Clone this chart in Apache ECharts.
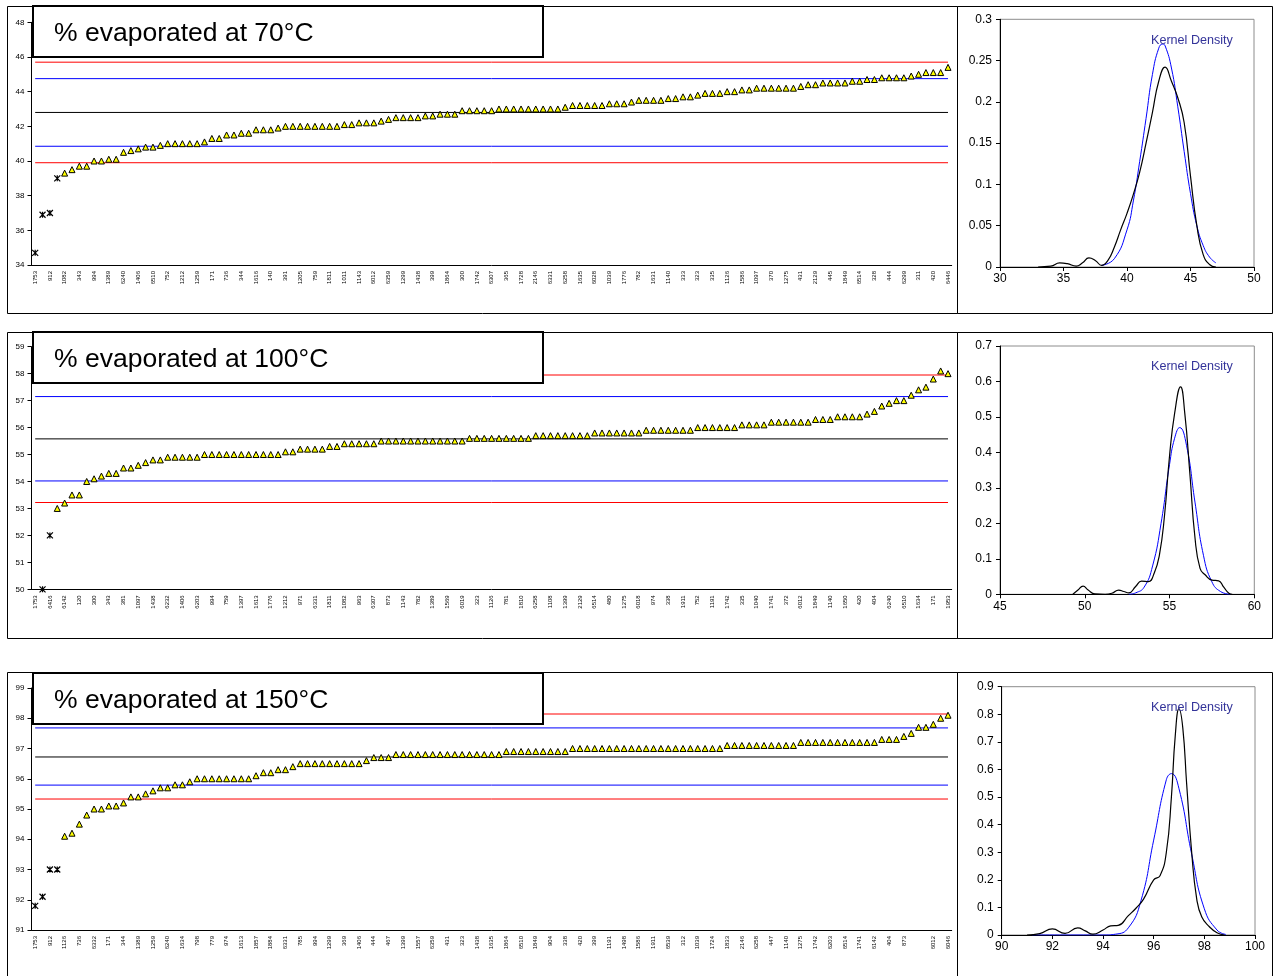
<!DOCTYPE html>
<html>
<head>
<meta charset="utf-8">
<script src="https://cdn.jsdelivr.net/npm/echarts@6/dist/echarts.min.js"></script>
<style>
  html, body { margin: 0; padding: 0; background: #fff; }
  #main { width: 1274px; height: 976px; }
</style>
</head>
<body>
<div id="main"></div>
<script>
//模拟真实数据 - 70°C
var labels70 = ["1753","912","1082","343","994","1389","6240","1406","6510","752","1212","1259","171","736","344","1616","140","391","1205","759","1811","1011","1143","6012","6359","1299","1438","399","1864","300","1742","6307","365","1728","2146","6331","6258","1635","6028","1039","1776","782","1631","1140","333","323","335","1126","1586","1097","370","1275","431","2129","445","1849","6514","328","444","6299","311","420","6446"];
var vals70 = [34.7,36.9,37.0,39.0,39.3,39.5,39.7,39.7,40.0,40.0,40.1,40.1,40.5,40.6,40.7,40.8,40.8,40.9,41.0,41.0,41.0,41.0,41.0,41.1,41.3,41.3,41.5,41.5,41.6,41.6,41.8,41.8,41.8,41.9,42.0,42.0,42.0,42.0,42.0,42.0,42.0,42.0,42.1,42.1,42.2,42.2,42.2,42.3,42.4,42.5,42.5,42.5,42.5,42.6,42.6,42.7,42.7,42.7,42.9,42.9,42.9,
  42.9,42.9,43.0,43.0,43.0,43.0,43.0,43.0,43.0,43.0,43.0,43.1,43.2,43.2,43.2,43.2,43.2,43.3,43.3,43.3,43.4,43.5,43.5,43.5,43.5,43.6,43.6,43.7,43.7,43.8,43.9,43.9,43.9,44.0,44.0,44.1,44.1,44.2,44.2,44.2,44.2,44.2,44.2,44.3,44.4,44.4,44.5,44.5,44.5,44.5,44.6,44.6,44.7,44.7,44.8,44.8,44.8,44.8,44.9,45.0,45.1,45.1,45.1,45.4];
var flagged70 = 4;
var lines70 = [45.7, 44.75, 42.8, 40.85, 39.9];

//100°C
var labels100 = ["1753","6416","6142","120","300","343","381","1097","1438","6232","1406","6203","994","759","1397","1613","1776","1212","971","6331","1811","1082","963","6307","873","1143","782","1389","1569","6019","323","1126","781","1810","6258","1108","1399","2129","6514","480","1275","6018","974","338","1911","752","1191","1742","335","1040","1741","372","6012","1849","1140","1650","420","404","6240","6510","1634","171","1953"];
var vals100 = [49.8,50.0,52.0,53.0,53.2,53.5,53.5,54.0,54.1,54.2,54.3,54.3,54.5,54.5,54.6,54.7,54.8,54.8,54.9,54.9,54.9,54.9,54.9,55.0,55.0,55.0,55.0,55.0,55.0,55.0,55.0,55.0,55.0,55.0,55.1,55.1,55.2,55.2,55.2,55.2,55.3,55.3,55.4,55.4,55.4,55.4,55.4,55.5,55.5,55.5,55.5,55.5,55.5,55.5,55.5,55.5,55.5,55.5,55.5,
  55.6,55.6,55.6,55.6,55.6,55.6,55.6,55.6,55.6,55.7,55.7,55.7,55.7,55.7,55.7,55.7,55.7,55.8,55.8,55.8,55.8,55.8,55.8,55.8,55.9,55.9,55.9,55.9,55.9,55.9,55.9,56.0,56.0,56.0,56.0,56.0,56.0,56.1,56.1,56.1,56.1,56.2,56.2,56.2,56.2,56.2,56.2,56.3,56.3,56.3,56.4,56.4,56.4,56.4,56.5,56.6,56.8,56.9,57.0,57.0,57.2,57.4,57.5,57.8,58.1,58.0];
var flagged100 = 3;
var lines100 = [57.95, 57.15, 55.58, 54.02, 53.22];

//150°C
var labels150 = ["1753","912","1126","736","6332","171","344","1389","1259","6240","1634","798","779","974","1613","1857","1884","6331","785","994","1299","369","1406","444","467","1399","1557","6359","431","323","1438","1635","1864","6510","1849","904","338","420","399","1191","1498","1586","1911","6539","312","1039","1724","1833","2146","6258","447","1140","1275","1742","6203","6514","1741","6142","404","873","","6012","6046"];
var vals150 = [91.8,92.1,93.0,93.0,94.1,94.2,94.5,94.8,95.0,95.0,95.1,95.1,95.2,95.4,95.4,95.5,95.6,95.7,95.7,95.8,95.8,95.9,96.0,96.0,96.0,96.0,96.0,96.0,96.0,96.0,96.1,96.2,96.2,96.3,96.3,96.4,96.5,96.5,96.5,96.5,96.5,96.5,96.5,96.5,96.5,96.6,96.7,96.7,96.7,
  96.8,96.8,96.8,96.8,96.8,96.8,96.8,96.8,96.8,96.8,96.8,96.8,96.8,96.8,96.8,96.9,96.9,96.9,96.9,96.9,96.9,96.9,96.9,96.9,97.0,97.0,97.0,97.0,97.0,97.0,97.0,97.0,97.0,97.0,97.0,97.0,97.0,97.0,97.0,97.0,97.0,97.0,97.0,97.0,97.0,
  97.1,97.1,97.1,97.1,97.1,97.1,97.1,97.1,97.1,97.1,97.2,97.2,97.2,97.2,97.2,97.2,97.2,97.2,97.2,97.2,97.2,97.3,97.3,97.3,97.4,97.5,97.7,97.7,97.8,98.0,98.1];
var flagged150 = 4;
var lines150 = [98.14, 97.68, 96.72, 95.79, 95.33];

//核密度曲线 (黑) 和 正态曲线 (蓝)
var kde70 = [[33,0],[34,0.001],[34.7,0.005],[35.3,0.004],[36,0.001],[36.5,0.005],[37,0.011],[37.5,0.008],[38,0.002],[38.5,0.008],[39,0.024],[39.5,0.045],[40,0.065],[40.5,0.088],[41,0.115],[41.5,0.15],[42,0.187],[42.5,0.225],[43,0.242],[43.5,0.225],[44,0.205],[44.5,0.175],[45,0.11],[45.5,0.05],[46,0.015],[46.5,0.003],[47,0]];
var norm70 = [[38,0.002],[39,0.01],[40,0.045],[40.5,0.08],[41,0.128],[41.5,0.18],[42,0.233],[42.5,0.265],[42.8,0.27],[43,0.268],[43.5,0.241],[44,0.194],[44.5,0.14],[45,0.089],[45.5,0.05],[46,0.026],[46.5,0.012],[47,0.005]];
var kde100 = [[49.3,0],[49.6,0.012],[49.9,0.023],[50.2,0.012],[50.6,0.001],[51.2,0],[51.6,0.003],[52,0.012],[52.3,0.008],[52.6,0.004],[53,0.022],[53.35,0.037],[53.75,0.036],[54.1,0.06],[54.4,0.11],[54.7,0.22],[55,0.39],[55.3,0.51],[55.65,0.585],[55.9,0.51],[56.2,0.34],[56.5,0.16],[56.8,0.073],[57.1,0.055],[57.5,0.04],[57.9,0.038],[58.2,0.02],[58.5,0.003],[58.7,0]];
var norm100 = [[52.6,0],[53,0.004],[53.5,0.02],[54,0.08],[54.5,0.2],[55,0.366],[55.3,0.44],[55.6,0.47],[56,0.42],[56.5,0.26],[57,0.11],[57.5,0.035],[58,0.008],[58.6,0]];
var kde150 = [[91,0],[91.5,0.005],[92,0.022],[92.5,0.006],[93,0.026],[93.3,0.015],[93.6,0.003],[94,0.018],[94.3,0.033],[94.6,0.035],[95,0.07],[95.3,0.097],[95.6,0.13],[96,0.2],[96.25,0.215],[96.5,0.3],[96.7,0.5],[96.85,0.72],[97,0.82],[97.15,0.75],[97.3,0.55],[97.5,0.3],[97.7,0.13],[97.9,0.065],[98.2,0.03],[98.5,0.008],[98.8,0]];
var norm150 = [[91.2,0],[94,0],[94.5,0.003],[95,0.026],[95.5,0.125],[96,0.344],[96.5,0.563],[96.7,0.585],[97,0.53],[97.5,0.293],[98,0.095],[98.5,0.018],[98.85,0.002]];

var myChart = echarts.init(document.getElementById("main"));
var font = "'Liberation Sans', Arial, sans-serif";
var lineColors = ['#ff0000', '#0000ff', '#000000', '#0000ff', '#ff0000'];
var crossPath = 'path://M0,0L8,8M8,0L0,8M4,0L4,8';

// 每隔一个点显示一个标签
function cats(labels, n) {
  var arr = [];
  for (var i = 0; i < n; i++) {
    arr.push(i % 2 === 0 ? labels[i / 2] : '');
  }
  return arr;
}

var panels = [
  {labels: labels70, vals: vals70, flagged: flagged70, lines: lines70, min: 34, max: 48, step: 2, top: 22.3, height: 242.7},
  {labels: labels100, vals: vals100, flagged: flagged100, lines: lines100, min: 50, max: 59, step: 1, top: 346.7, height: 242.6},
  {labels: labels150, vals: vals150, flagged: flagged150, lines: lines150, min: 91, max: 99, step: 1, top: 688, height: 242}
];
var dens = [
  {kde: kde70, norm: norm70, xmin: 30, xmax: 50, xstep: 5, ymax: 0.3, ystep: 0.05, left: 1000, top: 19.3, width: 254, height: 247.7},
  {kde: kde100, norm: norm100, xmin: 45, xmax: 60, xstep: 5, ymax: 0.7, ystep: 0.1, left: 1000, top: 346, width: 254.3, height: 248.3},
  {kde: kde150, norm: norm150, xmin: 90, xmax: 100, xstep: 2, ymax: 0.9, ystep: 0.1, left: 1001.7, top: 686.7, width: 253.3, height: 248.3}
];
var titles = ['% evaporated at 70°C', '% evaporated at 100°C', '% evaporated at 150°C'];
var boxTops = [6, 332, 673];
var frameTops = [6, 332, 672];
var frameH = [307, 306, 320];

var grid = [], xAxis = [], yAxis = [], series = [], graphic = [];

panels.forEach(function (p, k) {
  var n = p.vals.length;
  grid.push({left: 31.5, top: p.top, width: 920.2, height: p.height});
  xAxis.push({
    type: 'category', gridIndex: k, data: cats(p.labels, n), boundaryGap: true,
    axisLine: {lineStyle: {color: '#000', width: 1}},
    axisTick: {show: false},
    axisLabel: {interval: 0, rotate: 90, fontSize: 6, color: '#000', margin: 6, fontFamily: font}
  });
  yAxis.push({
    type: 'value', gridIndex: k, min: p.min, max: p.max, interval: p.step,
    axisLine: {show: true, lineStyle: {color: '#000', width: 1}},
    axisTick: {show: true, length: 4, lineStyle: {color: '#000'}},
    splitLine: {show: false},
    axisLabel: {fontSize: 8, color: '#000', margin: 7, fontFamily: font}
  });
  // 参考线 (均值, ±2σ, ±3σ)
  p.lines.forEach(function (v, j) {
    series.push({
      type: 'line', xAxisIndex: k, yAxisIndex: k, data: [[0, v], [n - 1, v]],
      showSymbol: false, silent: true, z: 3,
      lineStyle: {color: lineColors[j], width: 1}
    });
  });
  var flaggedData = p.vals.map(function (v, i) { return i < p.flagged ? v : null; });
  var mainData = p.vals.map(function (v, i) { return i >= p.flagged ? v : null; });
  series.push({
    type: 'scatter', xAxisIndex: k, yAxisIndex: k, data: mainData,
    symbol: 'triangle', symbolSize: 6, clip: true, z: 5,
    itemStyle: {color: '#ffff00', borderColor: '#000', borderWidth: 1, opacity: 1}
  });
  series.push({
    type: 'scatter', xAxisIndex: k, yAxisIndex: k, data: flaggedData,
    symbol: crossPath, symbolSize: 6, clip: true, z: 5,
    itemStyle: {color: 'rgba(0,0,0,0)', borderColor: '#000', borderWidth: 1.2, opacity: 1}
  });
  // 外框
  graphic.push({type: 'rect', z: 1, shape: {x: 7.5, y: frameTops[k] + 0.5, width: 950, height: frameH[k]},
    style: {fill: 'none', stroke: '#000', lineWidth: 1}});
  graphic.push({type: 'rect', z: 1, shape: {x: 957.5, y: frameTops[k] + 0.5, width: 315, height: frameH[k]},
    style: {fill: 'none', stroke: '#000', lineWidth: 1}});
  // 标题框
  graphic.push({type: 'rect', z: 100, shape: {x: 33, y: boxTops[k], width: 510, height: 51},
    style: {fill: '#fff', stroke: '#000', lineWidth: 2}});
  graphic.push({type: 'text', z: 101, x: 54, y: boxTops[k] + 28,
    style: {text: titles[k], font: '26.5px ' + font, fill: '#000', textVerticalAlign: 'middle'}});
});

dens.forEach(function (d, k) {
  var gi = k + 3;
  grid.push({left: d.left, top: d.top, width: d.width, height: d.height, show: true,
    borderColor: '#8c8c8c', borderWidth: 1, backgroundColor: 'transparent'});
  xAxis.push({
    type: 'value', gridIndex: gi, min: d.xmin, max: d.xmax, interval: d.xstep,
    axisLine: {show: true, onZero: false, lineStyle: {color: '#000'}},
    axisTick: {show: true, length: 4, lineStyle: {color: '#000'}},
    splitLine: {show: false},
    axisLabel: {fontSize: 12, color: '#000', margin: 6, fontFamily: font}
  });
  yAxis.push({
    type: 'value', gridIndex: gi, min: 0, max: d.ymax, interval: d.ystep,
    axisLine: {show: true, lineStyle: {color: '#000'}},
    axisTick: {show: true, length: 4, lineStyle: {color: '#000'}},
    splitLine: {show: false},
    axisLabel: {fontSize: 12, color: '#000', margin: 8, fontFamily: font}
  });
  series.push({
    type: 'line', xAxisIndex: gi, yAxisIndex: gi, data: d.norm, smooth: true,
    showSymbol: false, lineStyle: {color: '#0000ff', width: 1}
  });
  series.push({
    type: 'line', xAxisIndex: gi, yAxisIndex: gi, data: d.kde, smooth: true,
    showSymbol: false, lineStyle: {color: '#000', width: 1.2}
  });
  graphic.push({type: 'text', z: 50, x: 1151, y: d.top + 21,
    style: {text: 'Kernel Density', font: '12.6px ' + font, fill: '#333399', textVerticalAlign: 'middle'}});
});

var option = {
  animation: false,
  backgroundColor: '#fff',
  grid: grid,
  xAxis: xAxis,
  yAxis: yAxis,
  series: series,
  graphic: graphic
};
myChart.setOption(option);
</script>
</body>
</html>
